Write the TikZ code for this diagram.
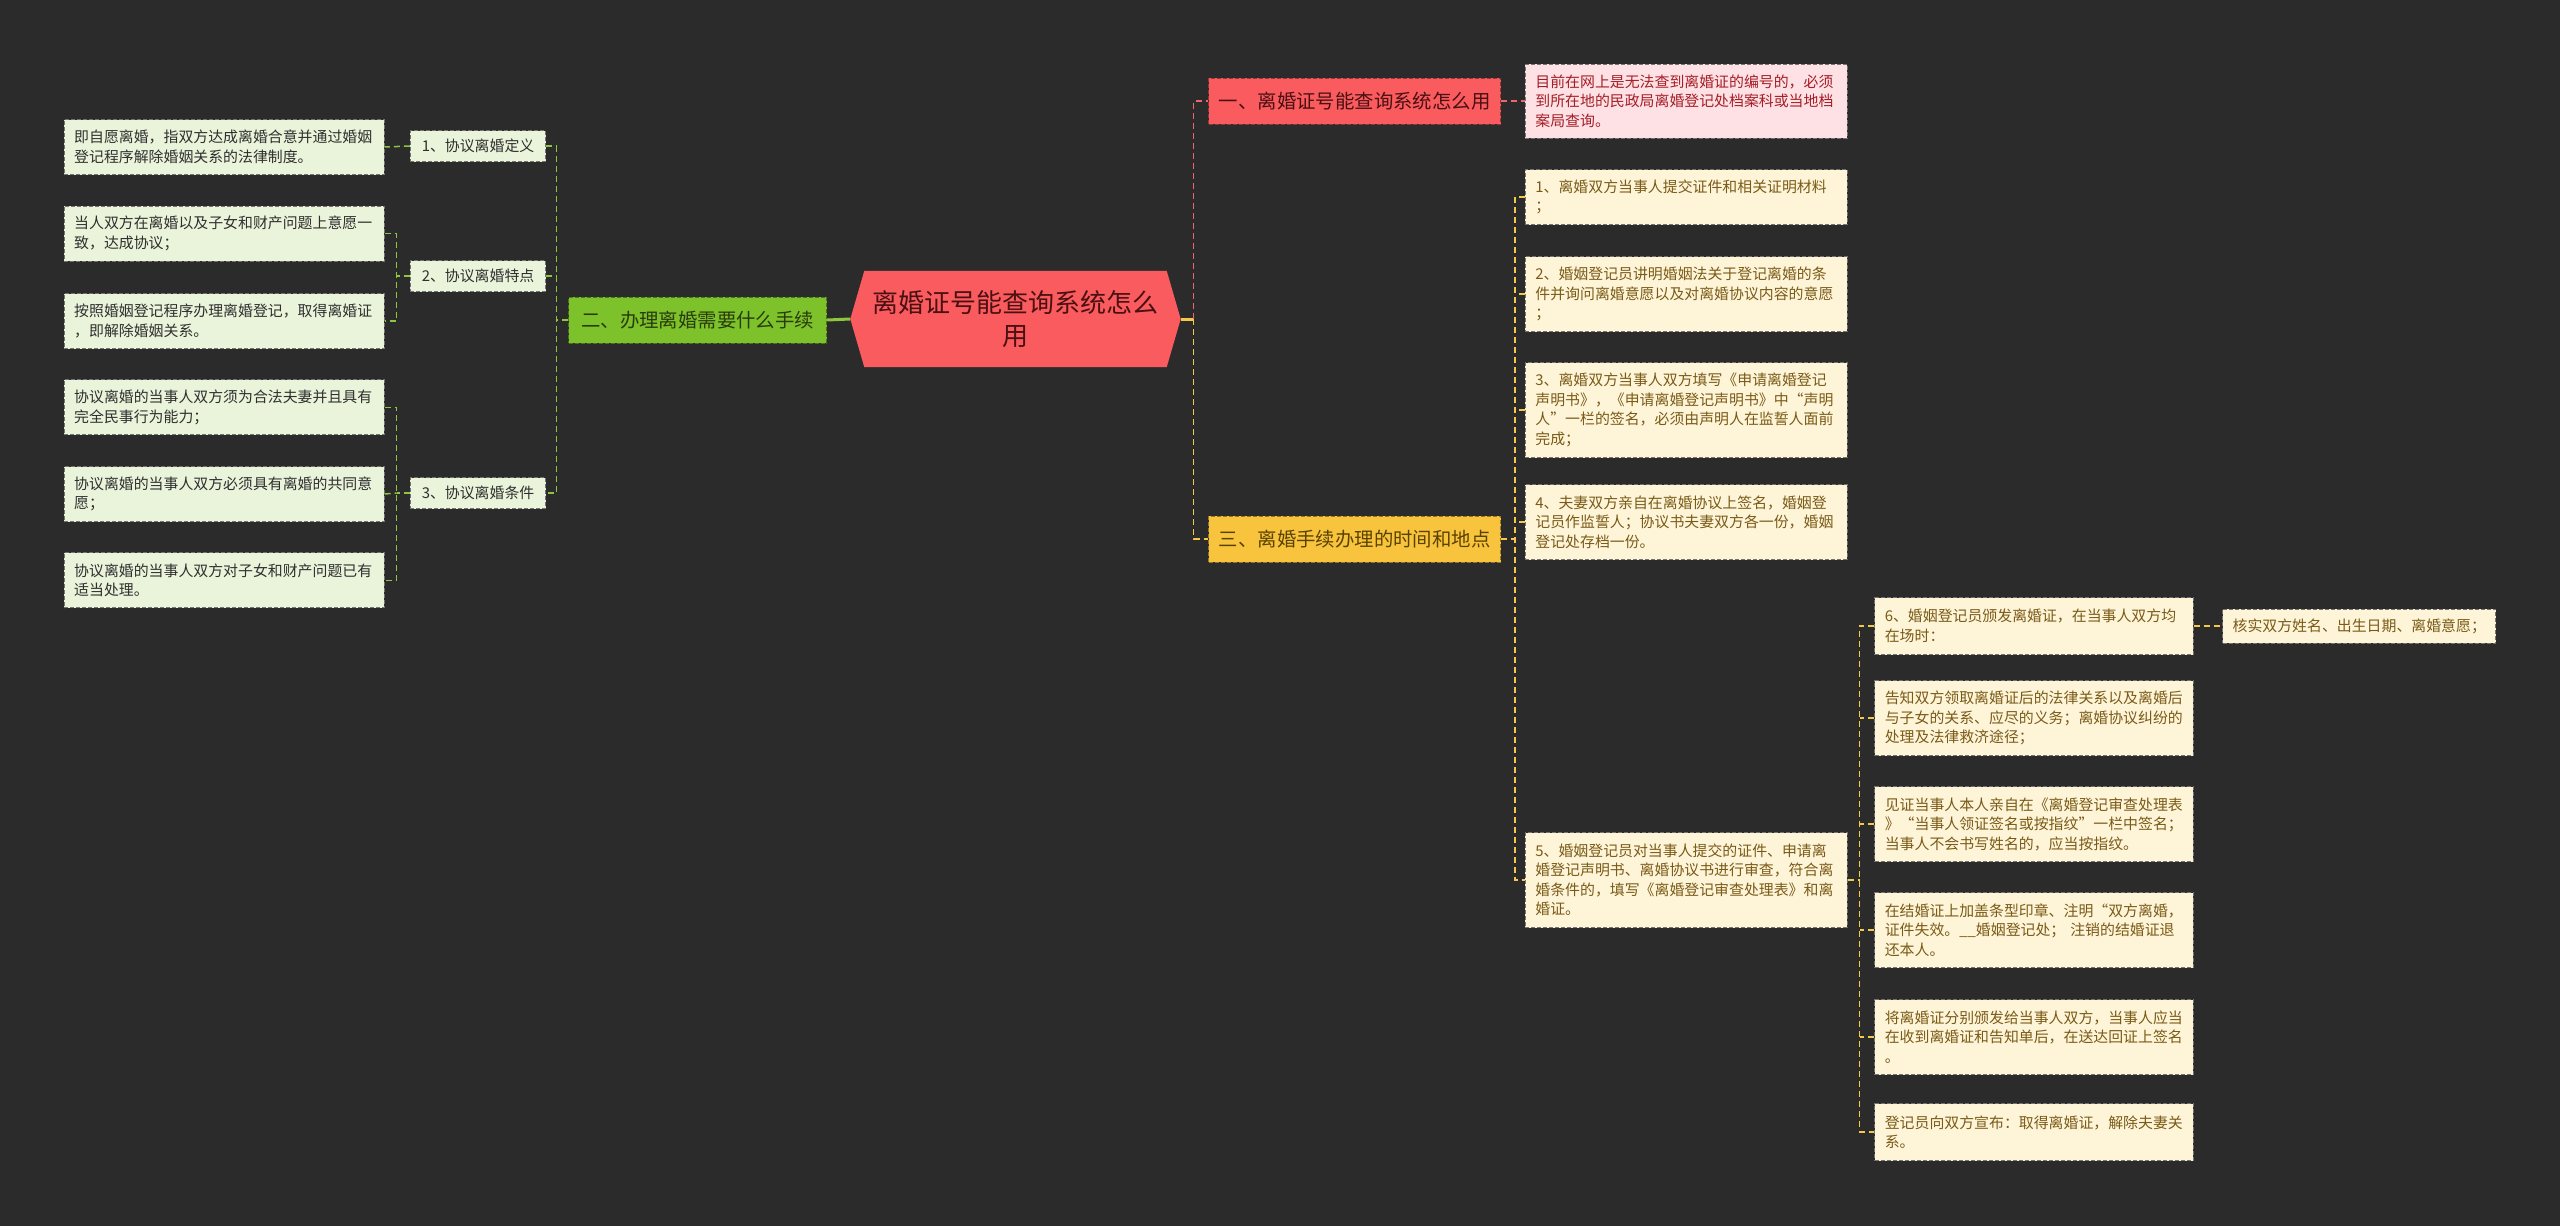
\documentclass[tikz,border=0pt]{standalone}
\usepackage{fontspec}
\setmainfont{Noto Sans CJK SC}
\usetikzlibrary{backgrounds}
\definecolor{bg}{HTML}{2B2B2B}
\definecolor{rootfill}{HTML}{F95B5E}
\definecolor{roottext}{HTML}{4A1012}
\definecolor{pinkfill}{HTML}{FDE1E4}
\definecolor{pinktext}{HTML}{A51E27}
\definecolor{ybfill}{HTML}{F8C43E}
\definecolor{ybtext}{HTML}{5A4200}
\definecolor{ylfill}{HTML}{FEF5D9}
\definecolor{yltext}{HTML}{7A5A17}
\definecolor{gbfill}{HTML}{7DC12B}
\definecolor{gbtext}{HTML}{283C0C}
\definecolor{glfill}{HTML}{EAF4DA}
\definecolor{gltext}{HTML}{2F2F2F}
\definecolor{gline}{HTML}{8DC63F}
\definecolor{rline}{HTML}{F0676B}
\definecolor{yline}{HTML}{F5C84A}
\newcommand\fs[2]{\fontsize{#1}{#2}\selectfont}
\tikzset{
  box/.style={anchor=west, inner xsep=10pt, inner ysep=4pt, dash pattern=on 4pt off 2pt, line width=1pt},
  gleaf/.style={box, fill=glfill, draw=black!55, text=gltext, text width=300pt, align=left, font=\fs{14.9}{19.5}},
  gsub/.style={box, fill=glfill, draw=black!55, text=gltext, minimum width=135.5pt, minimum height=31pt, align=center, font=\fs{14.9}{19.5}},
  gbranch/.style={box, fill=gbfill, draw=gbfill!60!black, text=gbtext, minimum width=258pt, minimum height=46pt, align=center, font=\fs{19.4}{24}},
  rbranch/.style={box, fill=rootfill, draw=rootfill!60!black, text=roottext, minimum width=292pt, minimum height=46pt, align=center, font=\fs{19.4}{24}},
  ybranch/.style={box, fill=ybfill, draw=ybfill!60!black, text=ybtext, minimum width=292pt, minimum height=46pt, align=center, font=\fs{19.4}{24}},
  pleaf/.style={box, fill=pinkfill, draw=black!55, text=pinktext, text width=301.6pt, align=left, font=\fs{14.9}{19.5}},
  yleaf/.style={box, fill=ylfill, draw=black!55, text=yltext, text width=301.6pt, align=left, font=\fs{14.9}{19.5}},
  sleaf/.style={box, fill=ylfill, draw=black!55, text=yltext, text width=298.4pt, align=left, font=\fs{14.9}{19.5}},
  rootnode/.style={inner sep=0pt, minimum width=330pt, minimum height=96pt, text=roottext, align=center, font=\fs{26}{33}},
  conn/.style={line width=1.5pt, dash pattern=on 6pt off 4pt},
  gdash/.style={conn, draw=gline},
  rdash/.style={conn, draw=rline},
  ydash/.style={conn, draw=yline},
  gsolid/.style={line width=3pt, draw=gline},
  ysolid/.style={line width=3pt, draw=yline},
}
\begin{document}
\begin{tikzpicture}[x=1pt,y=-1pt]
\useasboundingbox (0,0) rectangle (2560,1226);

% root
\node[rootnode] (root) at (1015.5,319) {离婚证号能查询系统怎么\\用};

% left side
\node[gbranch] (g) at (568.2,320) {二、办理离婚需要什么手续};
\node[gsub] (d1) at (409.8,146) {1、协议离婚定义};
\node[gsub] (d2) at (409.8,276) {2、协议离婚特点};
\node[gsub] (d3) at (409.8,493) {3、协议离婚条件};
\node[gleaf, minimum height=55pt] (l1) at (63.7,147) {即自愿离婚，指双方达成离婚合意并通过婚姻\\登记程序解除婚姻关系的法律制度。};
\node[gleaf, minimum height=55pt] (l2) at (63.7,233.5) {当人双方在离婚以及子女和财产问题上意愿一\\致，达成协议；};
\node[gleaf, minimum height=55pt] (l3) at (63.7,321) {按照婚姻登记程序办理离婚登记，取得离婚证\\，即解除婚姻关系。};
\node[gleaf, minimum height=55pt] (l4) at (63.7,407.4) {协议离婚的当事人双方须为合法夫妻并且具有\\完全民事行为能力；};
\node[gleaf, minimum height=55pt] (l5) at (63.7,494) {协议离婚的当事人双方必须具有离婚的共同意\\愿；};
\node[gleaf, minimum height=55pt] (l6) at (63.7,580.4) {协议离婚的当事人双方对子女和财产问题已有\\适当处理。};

% right side
\node[rbranch] (b1) at (1208.2,101) {一、离婚证号能查询系统怎么用};
\node[ybranch] (b3) at (1208.2,539) {三、离婚手续办理的时间和地点};
\node[pleaf, minimum height=74pt] (p1) at (1524.9,101) {目前在网上是无法查到离婚证的编号的，必须\\到所在地的民政局离婚登记处档案科或当地档\\案局查询。};
\node[yleaf, minimum height=55pt] (y1) at (1524.9,197) {1、离婚双方当事人提交证件和相关证明材料\\；};
\node[yleaf, minimum height=75pt] (y2) at (1524.9,294) {2、婚姻登记员讲明婚姻法关于登记离婚的条\\件并询问离婚意愿以及对离婚协议内容的意愿\\；};
\node[yleaf, minimum height=95pt] (y3) at (1524.9,410) {3、离婚双方当事人双方填写《申请离婚登记\\声明书》，《申请离婚登记声明书》中“声明\\人”一栏的签名，必须由声明人在监誓人面前\\完成；};
\node[yleaf, minimum height=75pt] (y4) at (1524.9,522) {4、夫妻双方亲自在离婚协议上签名，婚姻登\\记员作监誓人；协议书夫妻双方各一份，婚姻\\登记处存档一份。};
\node[yleaf, minimum height=95pt] (y5) at (1524.9,880) {5、婚姻登记员对当事人提交的证件、申请离\\婚登记声明书、离婚协议书进行审查，符合离\\婚条件的，填写《离婚登记审查处理表》和离\\婚证。};
\node[sleaf, minimum height=57pt] (s1) at (1874.3,626) {6、婚姻登记员颁发离婚证，在当事人双方均\\在场时：};
\node[sleaf, minimum height=75pt] (s2) at (1874.3,718) {告知双方领取离婚证后的法律关系以及离婚后\\与子女的关系、应尽的义务；离婚协议纠纷的\\处理及法律救济途径；};
\node[sleaf, minimum height=75pt] (s3) at (1874.3,824) {见证当事人本人亲自在《离婚登记审查处理表\\》“当事人领证签名或按指纹”一栏中签名；\\当事人不会书写姓名的，应当按指纹。};
\node[sleaf, minimum height=75pt] (s4) at (1874.3,930) {在结婚证上加盖条型印章、注明“双方离婚，\\证件失效。\_\_婚姻登记处； 注销的结婚证退\\还本人。};
\node[sleaf, minimum height=75pt] (s5) at (1874.3,1037) {将离婚证分别颁发给当事人双方，当事人应当\\在收到离婚证和告知单后，在送达回证上签名\\。};
\node[sleaf, minimum height=57pt] (s6) at (1874.3,1132) {登记员向双方宣布：取得离婚证，解除夫妻关\\系。};
\node[box, fill=ylfill, draw=black!55, text=yltext, minimum width=272.6pt, minimum height=34pt, font=\fs{14.9}{19.5}] (fr) at (2222.1,626) {核实双方姓名、出生日期、离婚意愿；};

% trunk coordinates
\coordinate (lt) at (556.7,320);
\coordinate (lt2) at (396.7,276);
\coordinate (lt3) at (396.7,493);
\coordinate (rt) at (1193.5,319);
\coordinate (yt) at (1515.1,539);
\coordinate (st) at (1859.6,880);

% connectors
\draw[gsolid] (root.west) -- (g.east);
\draw[gdash] (g.west) -- (lt);
\draw[gdash] (d1.east) -| (lt) |- (d3.east);
\draw[gdash] (d2.east) -- (d2.east -| lt);
\draw[gdash] (d1.west) -- (l1.east);
\draw[gdash] (d2.west) -- (lt2);
\draw[gdash] (l2.east) -| (lt2) |- (l3.east);
\draw[gdash] (d3.west) -- (lt3);
\draw[gdash] (l4.east) -| (lt3) |- (l6.east);
\draw[gdash] (l5.east) -- (lt3);

\draw[ysolid] (root.east) -- (rt);
\draw[rdash] (rt) |- (b1.west);
\draw[ydash] (rt) |- (b3.west);
\draw[rdash] (b1.east) -- (p1.west);
\draw[ydash] (b3.east) -- (yt);
\draw[ydash] (y1.west) -| (yt) |- (y5.west);
\draw[ydash] (y2.west) -- (y2.west -| yt);
\draw[ydash] (y3.west) -- (y3.west -| yt);
\draw[ydash] (y4.west) -- (y4.west -| yt);
\draw[ydash] (y5.east) -- (st);
\draw[ydash] (s1.west) -| (st) |- (s6.west);
\draw[ydash] (s2.west) -- (s2.west -| st);
\draw[ydash] (s3.west) -- (s3.west -| st);
\draw[ydash] (s4.west) -- (s4.west -| st);
\draw[ydash] (s5.west) -- (s5.west -| st);
\draw[ydash] (s1.east) -- (fr.west);

\begin{scope}[on background layer]
  \fill[bg] (0,0) rectangle (2560,1226);
  \fill[rootfill] ([xshift=14pt]root.north west) -- ([xshift=-14pt]root.north east) -- (root.east)
     -- ([xshift=-14pt]root.south east) -- ([xshift=14pt]root.south west) -- (root.west) -- cycle;
\end{scope}
\end{tikzpicture}
\end{document}
